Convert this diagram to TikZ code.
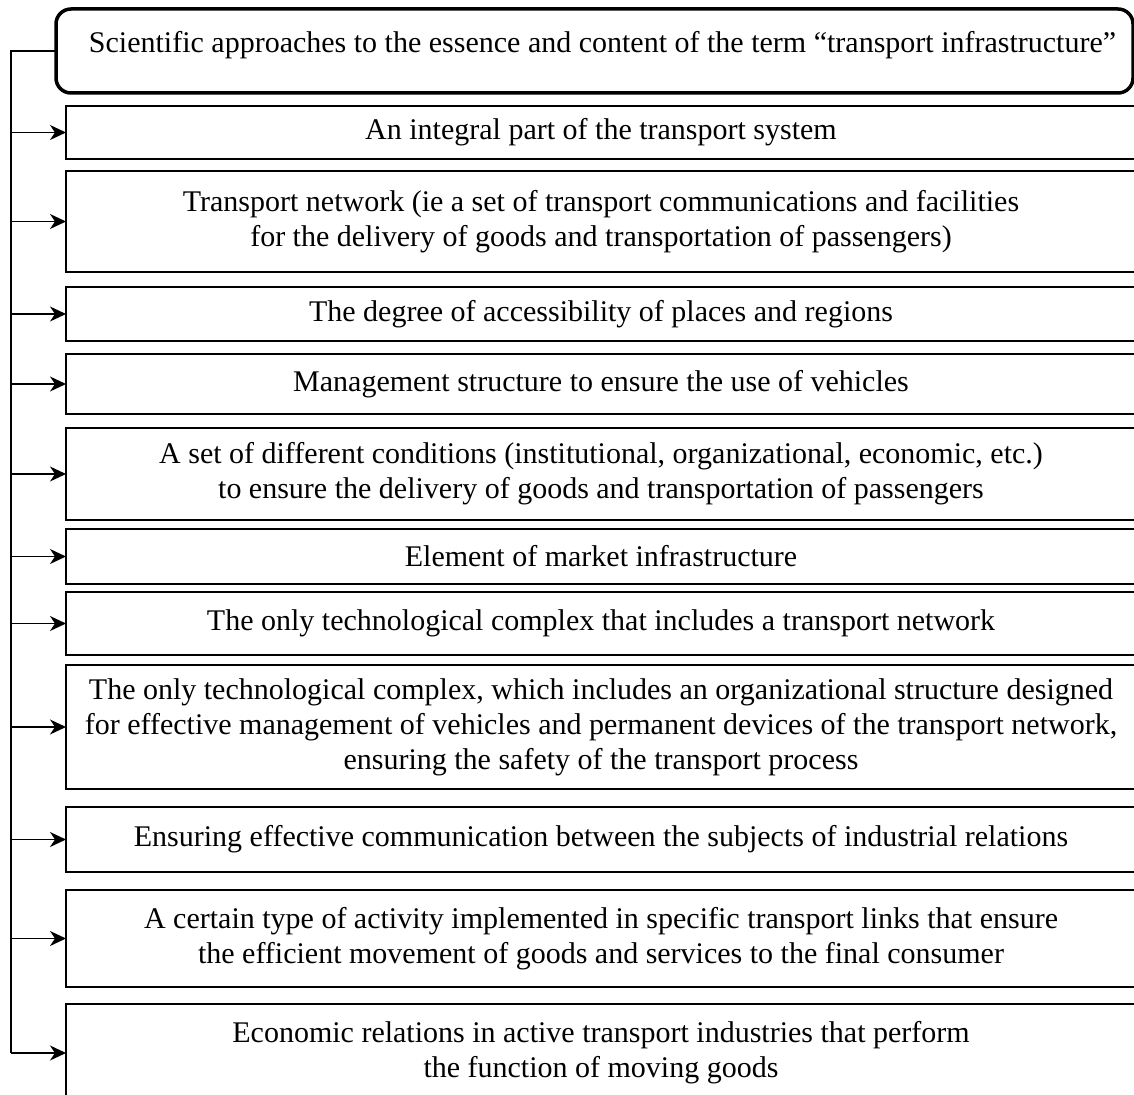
\documentclass[tikz,border=0pt]{standalone}
\usepackage{fontspec}
\setmainfont{Liberation Serif}
\usetikzlibrary{arrows.meta}

\begin{document}
\begin{tikzpicture}[x=1pt,y=-1pt,
    item/.style={draw,line width=1.6pt,anchor=north west,minimum width=1070pt,inner sep=0pt,outer sep=0pt,align=center,font=\fontsize{30}{35}\selectfont},
    head/.style={draw,line width=3.5pt,rounded corners=15pt,anchor=north west,minimum width=1077pt,minimum height=84pt,inner sep=0pt,outer sep=0pt,text height=44pt,text depth=40pt,font=\fontsize{30}{35}\selectfont},
    link/.style={line width=1.5pt},
    arr/.style={-{Stealth[length=16pt,width=15pt,inset=5pt]},line width=1.5pt}
  ]
    \useasboundingbox (0,0) rectangle (1134,1094);
    \node[head] (top) at (56,9) {\hspace*{16pt}Scientific approaches to the essence and content of the term “transport infrastructure”};
    \node[item,minimum height=53pt] (b1) at (66,106) {An integral part of the transport system};
    \node[item,minimum height=101pt] (b2) at (66,171) {Transport network (ie a set of transport communications and facilities\\for the delivery of goods and transportation of passengers)};
    \node[item,minimum height=54pt] (b3) at (66,287) {The degree of accessibility of places and regions};
    \node[item,minimum height=60pt] (b4) at (66,354) {Management structure to ensure the use of vehicles};
    \node[item,minimum height=92pt] (b5) at (66,428) {A set of different conditions (institutional, organizational, economic, etc.)\\to ensure the delivery of goods and transportation of passengers};
    \node[item,minimum height=55pt] (b6) at (66,529) {Element of market infrastructure};
    \node[item,minimum height=63pt] (b7) at (66,592) {The only technological complex that includes a transport network};
    \node[item,minimum height=124pt] (b8) at (66,665) {The only technological complex, which includes an organizational structure designed\\for effective management of vehicles and permanent devices of the transport network,\\ensuring the safety of the transport process};
    \node[item,minimum height=65pt] (b9) at (66,807) {Ensuring effective communication between the subjects of industrial relations};
    \node[item,minimum height=97pt] (b10) at (66,890) {A certain type of activity implemented in specific transport links that ensure\\the efficient movement of goods and services to the final consumer};
    \node[item,minimum height=98pt] (b11) at (66,1004) {Economic relations in active transport industries that perform\\the function of moving goods};
    % spine on the left
    \coordinate (s) at (11,49);
    \draw[link] (top.west) -| (s |- b11.west);
    \draw[arr] (s |- b1.west) -- (b1.west);
    \draw[arr] (s |- b2.west) -- (b2.west);
    \draw[arr] (s |- b3.west) -- (b3.west);
    \draw[arr] (s |- b4.west) -- (b4.west);
    \draw[arr] (s |- b5.west) -- (b5.west);
    \draw[arr] (s |- b6.west) -- (b6.west);
    \draw[arr] (s |- b7.west) -- (b7.west);
    \draw[arr] (s |- b8.west) -- (b8.west);
    \draw[arr] (s |- b9.west) -- (b9.west);
    \draw[arr] (s |- b10.west) -- (b10.west);
    \draw[arr] (s |- b11.west) -- (b11.west);
  \end{tikzpicture}
\end{document}
